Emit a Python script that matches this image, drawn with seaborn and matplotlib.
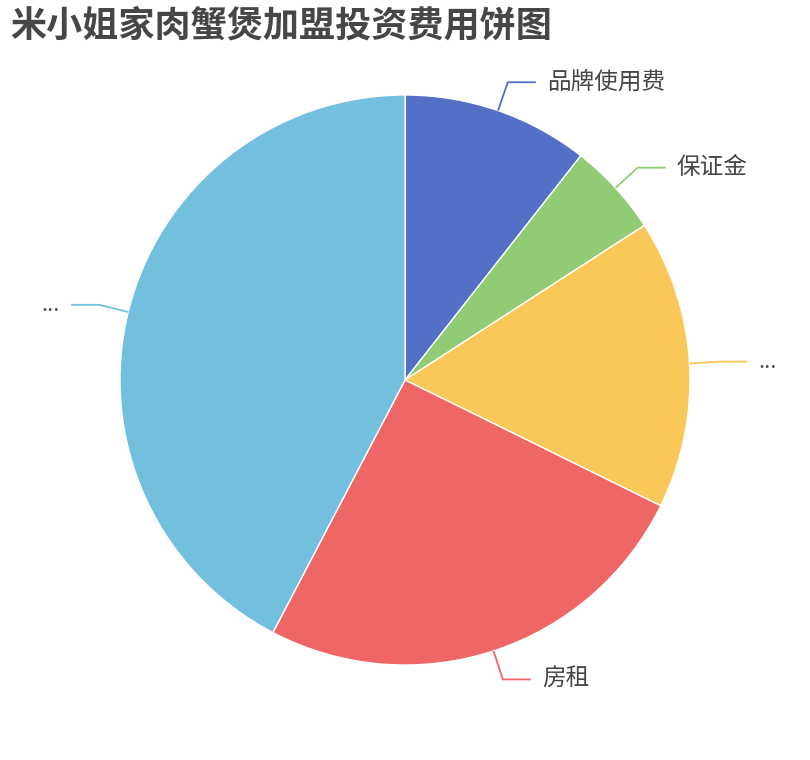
import numpy as np
import matplotlib
matplotlib.use("Agg")
import matplotlib.pyplot as plt
import seaborn as sns

# data (share of total investment)
names = ["品牌使用费", "保证金", "...", "房租", "..."]
values = [2.0, 1.0, 3.1, 4.8, 8.0]
title = "米小姐家肉蟹煲加盟投资费用饼图"

sns.set_theme(style="white")
plt.rcParams['font.family'] = ['Noto Sans CJK SC', 'DejaVu Sans']
colors = ["#5470c6", "#91cc75", "#fac858", "#ee6666", "#73c0de"]

fig = plt.figure(figsize=(8.1, 7.6), dpi=100)
ax = fig.add_axes([0, 0, 1, 1])

cx, cy, r = 405, 380, 285
wedges, _ = ax.pie(values, colors=colors, startangle=90, counterclock=False,
                   center=(cx, cy), radius=r, frame=True,
                   wedgeprops=dict(edgecolor="white", linewidth=1))
ax.set_xlim(0, 810)
ax.set_ylim(0, 760)
ax.set_aspect("equal")
ax.axis("off")

# leader lines + labels
for w, name, col in zip(wedges, names, colors):
    mid = np.deg2rad((w.theta1 + w.theta2) / 2)
    dx, dy = np.cos(mid), np.sin(mid)
    p0 = (cx + r * dx, cy + r * dy)
    p1 = (cx + (r + 30) * dx, cy + (r + 30) * dy)
    side = 1 if dx >= 0 else -1
    p2 = (p1[0] + side * 28, p1[1])
    ax.plot([p0[0], p1[0], p2[0]], [p0[1], p1[1], p2[1]], color=col, lw=1.3,
            solid_capstyle="butt")
    ax.text(p2[0] + side * 11, p2[1], name, ha="left" if side > 0 else "right",
            va="center", fontsize=17 if name != "..." else 16, color="#464646")

fig.text(10 / 810, 1 - 26 / 760, title, fontsize=26, fontweight="bold",
         color="#464646", ha="left", va="center")

fig.savefig("out.png", dpi=100)
